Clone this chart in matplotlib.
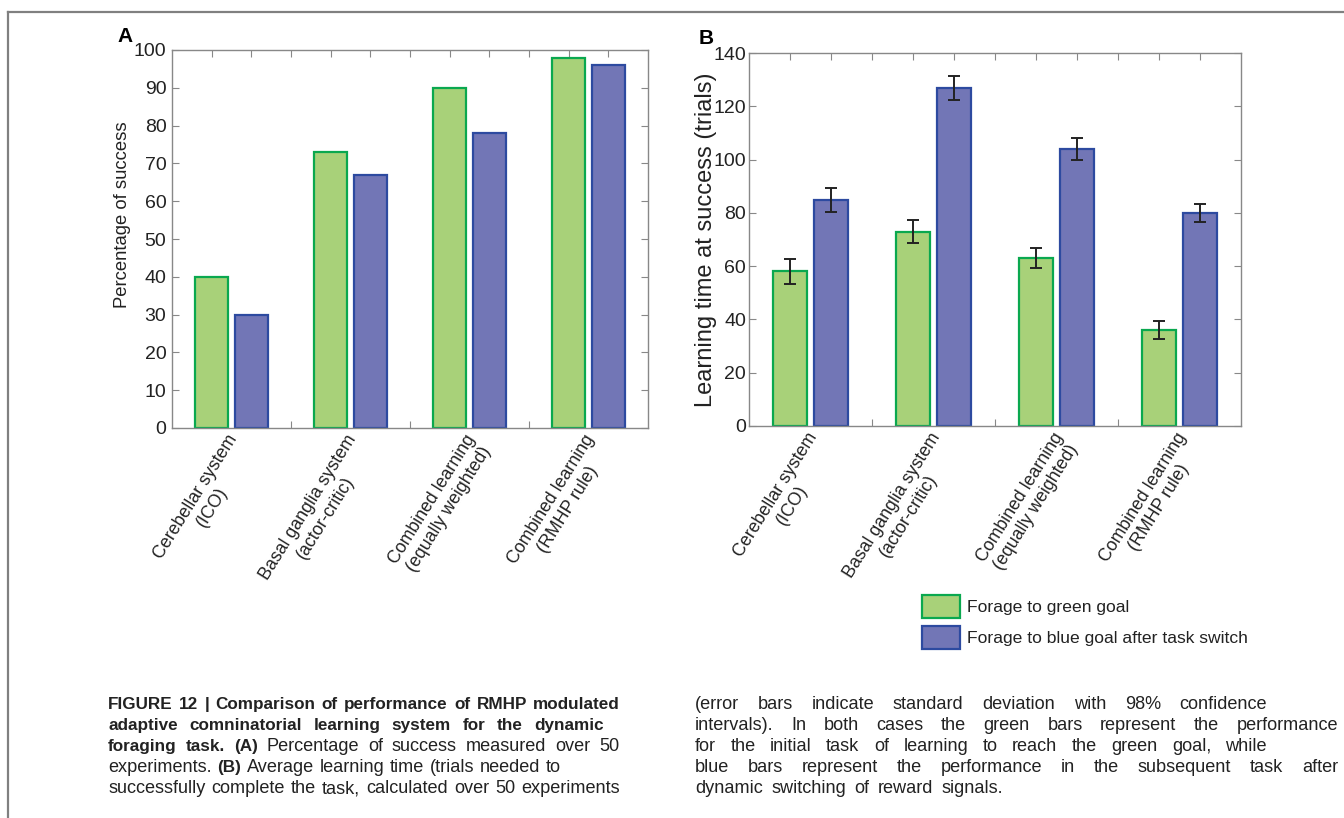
import numpy as np
import matplotlib
matplotlib.use("Agg")
import matplotlib.pyplot as plt
from matplotlib.patches import Patch
from matplotlib.lines import Line2D

plt.rcParams['font.family'] = ['Liberation Sans', 'DejaVu Sans']

# data
systems = ["Cerebellar system\n(ICO)", "Basal ganglia system\n(actor-critic)",
           "Combined learning\n(equally weighted)", "Combined learning\n(RMHP rule)"]
success_green = [40, 73, 90, 98]
success_blue = [30, 67, 78, 96]
time_green = [58, 73, 63, 36]
time_blue = [85, 127, 104, 80]
err_green = [4.7, 4.3, 3.8, 3.5]
err_blue = [4.5, 4.5, 4.1, 3.5]
legend_labels = ["Forage to green goal", "Forage to blue goal after task switch"]

green_face = "#a8d179"
green_edge = "#0aa84f"
blue_face = "#7276b6"
blue_edge = "#2d4aa0"

W, H = 1344, 818
fig = plt.figure(figsize=(W / 100, H / 100), dpi=100)

def px(x0, y0, x1, y1):
    # pixel box -> figure fraction rect
    return [x0 / W, 1 - y1 / H, (x1 - x0) / W, (y1 - y0) / H]

def setup(ax, ymax, ystep, pad):
    x = np.arange(1, 5)
    ax.set_xlim(0.5, 4.5)
    ax.set_ylim(0, ymax)
    ax.set_yticks(np.arange(0, ymax + 1, ystep))
    ax.set_xticks(0.5 + np.arange(1, 12) / 3.0)
    ax.set_xticklabels([])
    ax.tick_params(direction='in', length=5, width=0.8, color='#888888',
                   top=True, right=True, labelsize=14, pad=pad, labelcolor='#222222')
    for s in ax.spines.values():
        s.set_color('#888888')
        s.set_linewidth(1.0)
    ax.set_axisbelow(True)
    for i, name in enumerate(systems):
        ax.text(x[i] + 0.09, -0.035, name, transform=ax.get_xaxis_transform(),
                rotation=58, rotation_mode='anchor', ha='right', va='center',
                multialignment='center', fontsize=12.8, color='#222222')
    return x

# panel A
axA = fig.add_axes(px(172, 50, 648, 428))
x = setup(axA, 100, 10, 4)
axA.bar(x - 1/6, success_green, 0.275, color=green_face, edgecolor=green_edge, linewidth=1.6)
axA.bar(x + 1/6, success_blue, 0.275, color=blue_face, edgecolor=blue_edge, linewidth=1.6)
axA.set_ylabel("Percentage of success", fontsize=13.3, color='#222222')
axA.yaxis.set_label_coords(-0.086, 0.563)

# panel B
axB = fig.add_axes(px(749, 53, 1241, 426))
x = setup(axB, 140, 20, 2)
ekw = dict(ecolor='#222222', elinewidth=1.4, capsize=4, capthick=1.4)
axB.bar(x - 1/6, time_green, 0.27, color=green_face, edgecolor=green_edge, linewidth=1.6,
        yerr=err_green, error_kw=ekw)
axB.bar(x + 1/6, time_blue, 0.27, color=blue_face, edgecolor=blue_edge, linewidth=1.6,
        yerr=err_blue, error_kw=ekw)
axB.set_ylabel("Learning time at success (trials)", fontsize=17, color='#222222')
axB.yaxis.set_label_coords(-0.066, 0.5)

fig.text(117 / W, 1 - 36 / H, "A", fontsize=15, fontweight='bold', va='center')
fig.text(699 / W, 1 - 38 / H, "B", fontsize=15, fontweight='bold', va='center')

handles = [Patch(facecolor=green_face, edgecolor=green_edge, linewidth=1.6),
           Patch(facecolor=blue_face, edgecolor=blue_edge, linewidth=1.6)]
fig.legend(handles, legend_labels, loc='upper left', bbox_to_anchor=(913 / W, 1 - 586 / H),
           frameon=False, fontsize=12.6, handlelength=2.2, handleheight=1.65,
           handletextpad=0.4, labelspacing=0.45, borderpad=0, labelcolor='#222222')

# frame
fig.add_artist(Line2D([8 / W, 1], [1 - 12 / H, 1 - 12 / H], color='#808080', lw=1.6))
fig.add_artist(Line2D([8 / W, 8 / W], [0, 1 - 12 / H], color='#808080', lw=1.6))

# caption, justified by hand
caption_left = [
    ([("FIGURE 12 | Comparison of performance of RMHP modulated", True)], 620),
    ([("adaptive comninatorial learning system for the dynamic", True)], 604),
    ([("foraging task. (A)", True), ("Percentage of success measured over 50", False)], 619),
    ([("experiments.", False), ("(B)", True), ("Average learning time (trials needed to", False)], 561),
    ([("successfully complete the task, calculated over 50 experiments", False)], 620),
]
caption_right = [
    ([("(error bars indicate standard deviation with 98% confidence", False)], 1267),
    ([("intervals). In both cases the green bars represent the performance", False)], 1338),
    ([("for the initial task of learning to reach the green goal, while", False)], 1267),
    ([("blue bars represent the performance in the subsequent task after", False)], 1338),
    ([("dynamic switching of reward signals.", False)], None),
]
cap_fs = 13.1
bold_fs = 12.3
fig.canvas.draw()
rend = fig.canvas.get_renderer()

def word_width(s, bold):
    t = fig.text(0, 0, s, fontsize=bold_fs if bold else cap_fs,
                 fontweight='bold' if bold else 'normal')
    w = t.get_window_extent(rend).width
    t.remove()
    return w

def draw_lines(lines, left):
    space = word_width("a a", False) - 2 * word_width("a", False)
    for i, (segs, right) in enumerate(lines):
        words = [(w, b) for s, b in segs for w in s.split()]
        widths = [word_width(w, b) for w, b in words]
        if right is None:
            gap = space * 1.7
        else:
            gap = max(space, (right - left - sum(widths)) / (len(words) - 1))
        xp = left
        yb = 709 + 21 * i
        for (w, b), wd in zip(words, widths):
            fig.text(xp / W, 1 - yb / H, w, fontsize=bold_fs if b else cap_fs,
                     va='baseline', fontweight='bold' if b else 'normal', color='#222222')
            xp += wd + gap

draw_lines(caption_left, 108)
draw_lines(caption_right, 695)

fig.savefig("out.png", dpi=100)
